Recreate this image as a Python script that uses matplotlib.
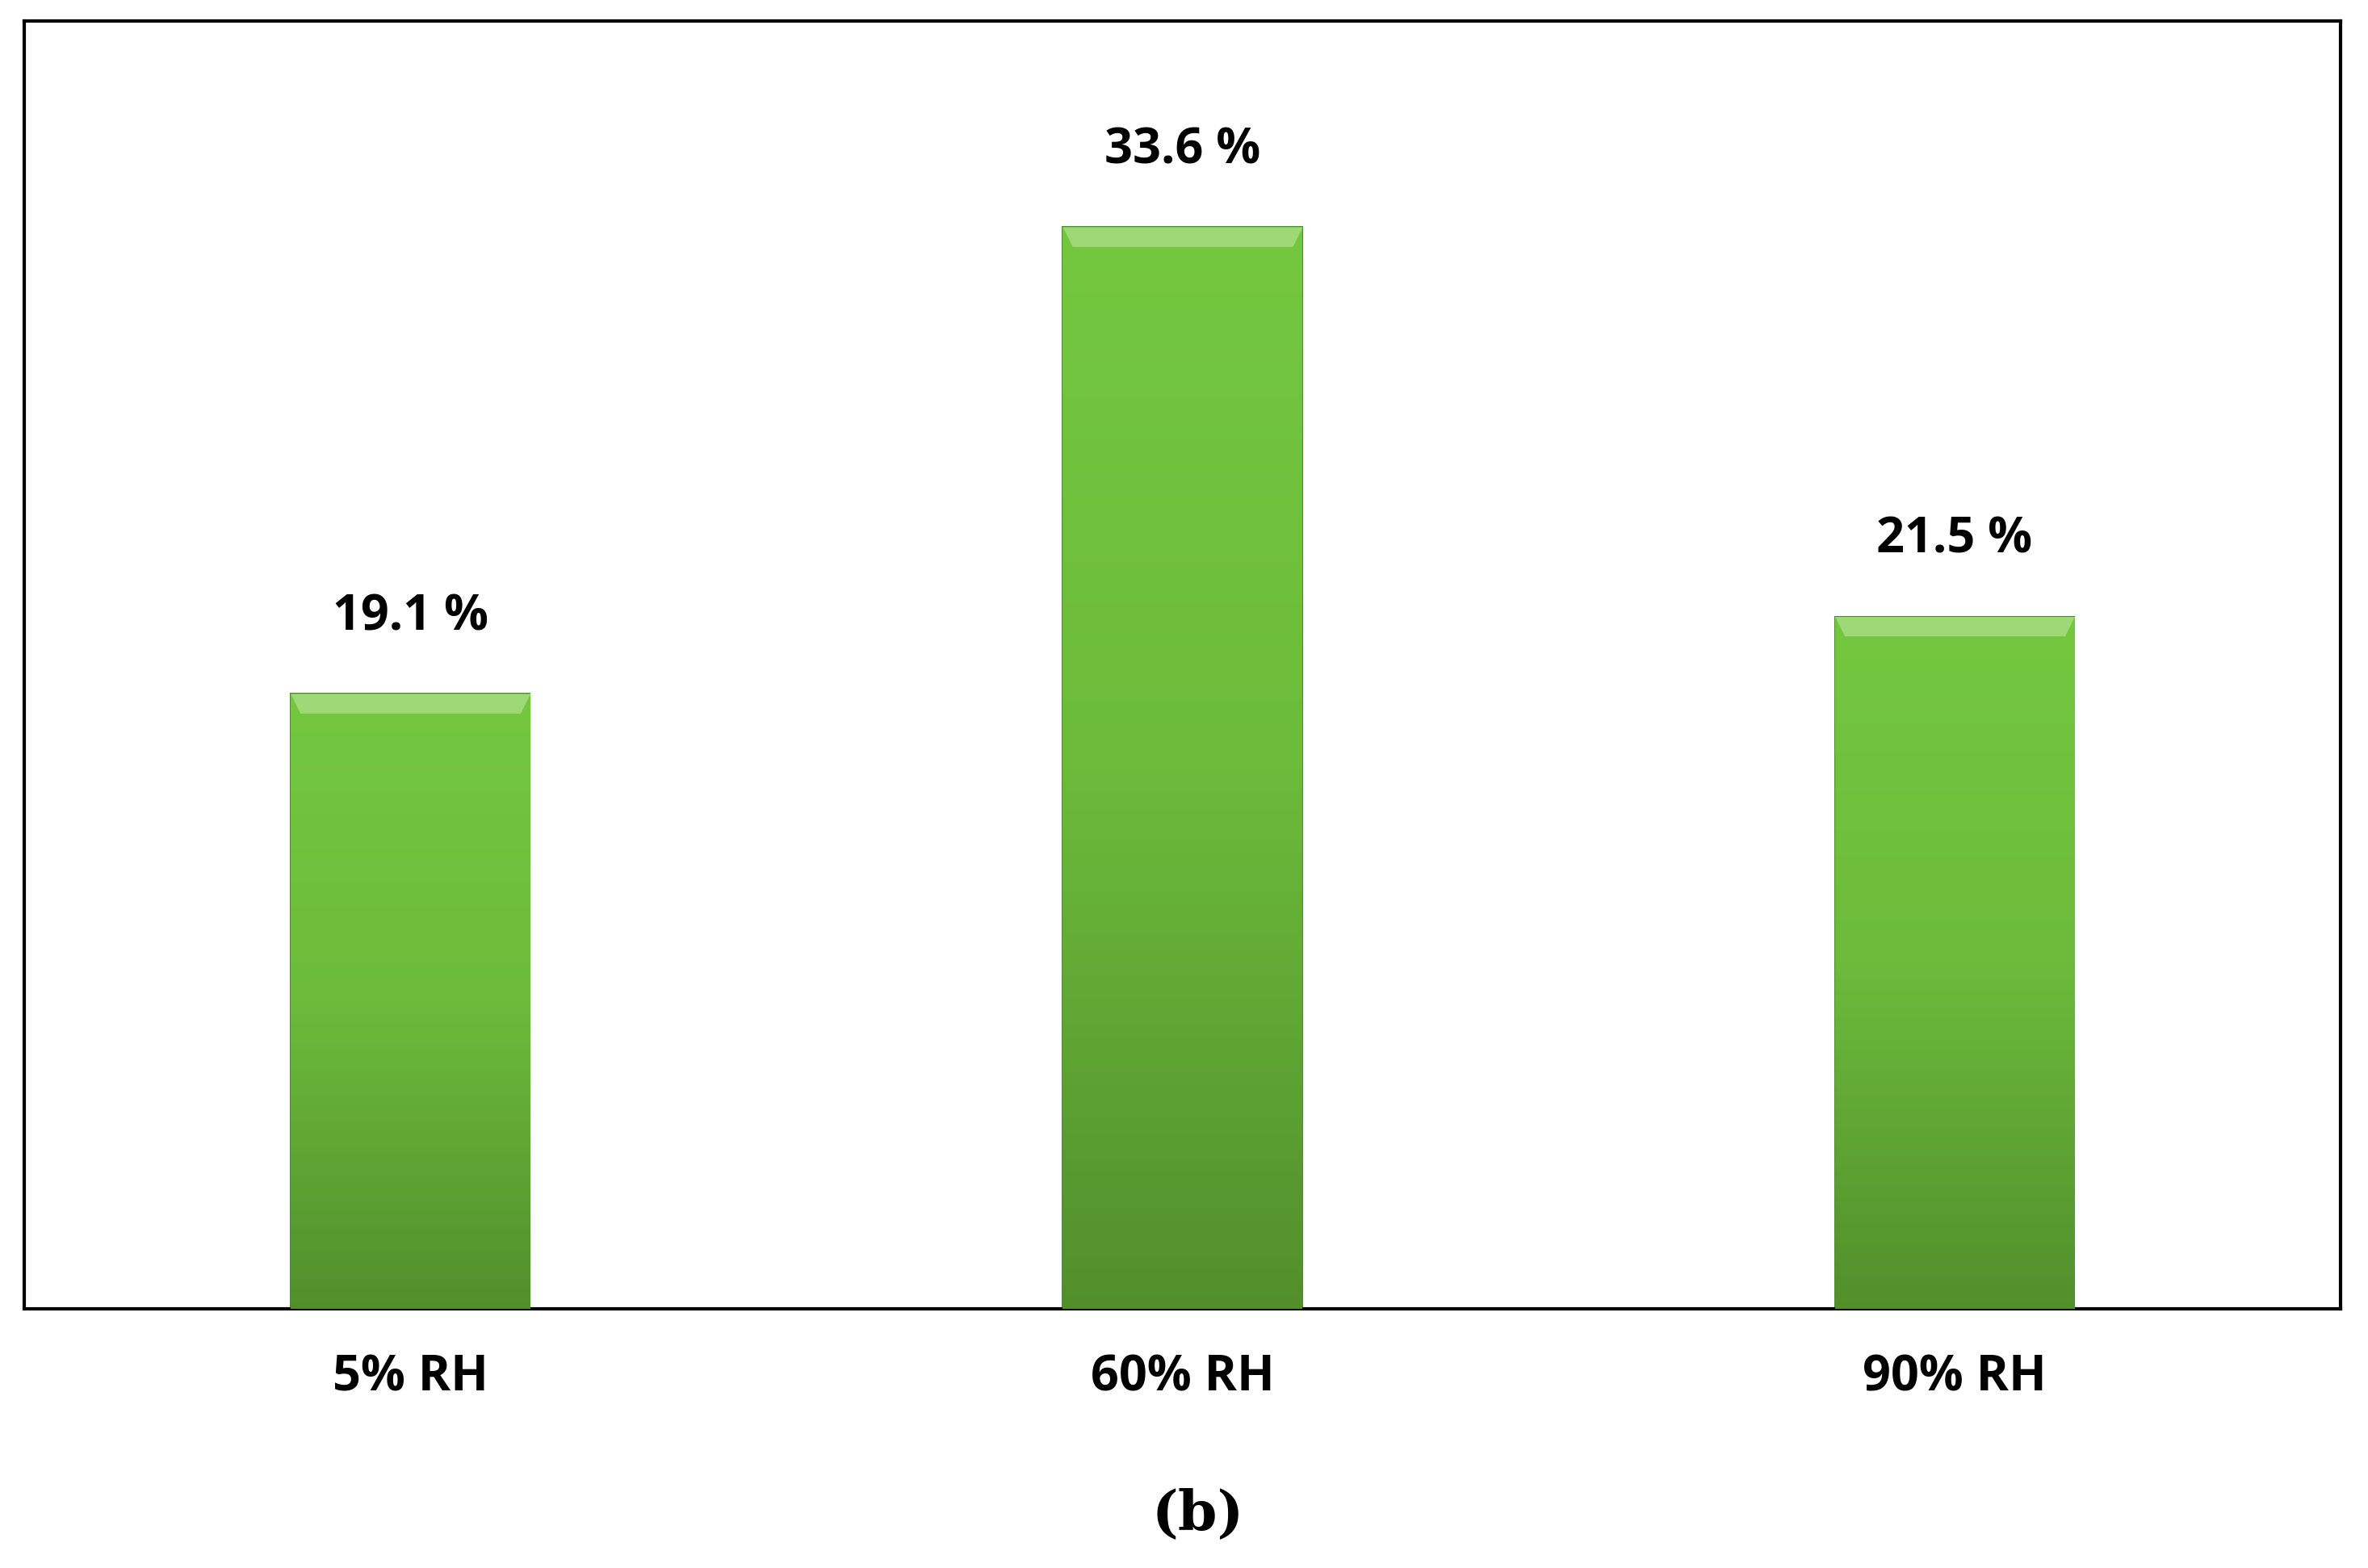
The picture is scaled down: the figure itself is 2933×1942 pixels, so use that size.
import numpy as np
import matplotlib.pyplot as plt
from matplotlib.colors import LinearSegmentedColormap

categories = ["5% RH", "60% RH", "90% RH"]
values = [19.1, 33.6, 21.5]
labels = ["19.1 %", "33.6 %", "21.5 %"]

fig = plt.figure(figsize=(29.33, 19.42), dpi=100)
ax = fig.add_axes([0.0102, 0.1654, 0.9783, 0.8211])

x = np.arange(len(categories))
bars = ax.bar(x, values, width=0.31, color="#6abd3b", edgecolor="#4f8a2c", linewidth=1.5, zorder=2)

# vertical gradient on each bar, light top to darker bottom
cmap = LinearSegmentedColormap.from_list("g", ["#528f2c", "#6cbb3b", "#74c83f"])
grad = np.linspace(0, 1, 256).reshape(-1, 1)
for b in bars:
    x0, w, h = b.get_x(), b.get_width(), b.get_height()
    im = ax.imshow(grad, cmap=cmap, origin="lower", aspect="auto",
                   extent=[x0, x0 + w, 0, h], zorder=3)
    im.set_clip_path(b)
    # bevel highlight at the top
    ax.fill_between([x0, x0 + w * 0.04, x0 + w * 0.96, x0 + w],
                    [h, h - 0.6, h - 0.6, h], [h, h, h, h],
                    color="#9fd977", zorder=4, lw=0)

for xi, v, lab in zip(x, values, labels):
    ax.text(xi, v + 1.6, lab, ha="center", va="bottom", fontsize=44,
            fontweight="bold", family="Open Sans")

ax.set_xlim(-0.5, 2.5)
ax.set_ylim(0, 40)
ax.set_xticks(x)
ax.set_xticklabels(categories, fontsize=44, fontweight="bold", family="Open Sans")
ax.tick_params(axis="x", length=0, pad=40)
ax.set_yticks([])
for s in ax.spines.values():
    s.set_linewidth(3)

fig.text(0.506, 0.034, "(b)", ha="center", va="center", fontsize=50,
         fontweight="bold", family="DejaVu Serif")

fig.savefig("out.png", dpi=100, facecolor="white")
